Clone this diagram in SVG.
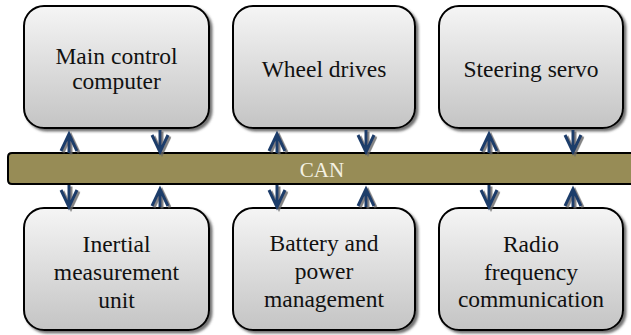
<svg xmlns="http://www.w3.org/2000/svg" width="631" height="335" viewBox="0 0 631 335">
  <defs>
    <linearGradient id="boxFill" x1="0" y1="0" x2="0" y2="1">
      <stop offset="0" stop-color="#f5f5f5"/>
      <stop offset="1" stop-color="#c4c4c4"/>
    </linearGradient>
    <filter id="shadow" x="-10%" y="-10%" width="120%" height="120%">
      <feDropShadow dx="2.5" dy="2.5" stdDeviation="1.2" flood-color="#444" flood-opacity="0.75"/>
    </filter>
    <filter id="arrowShadow" x="-50%" y="-20%" width="200%" height="140%">
      <feDropShadow dx="2" dy="1.5" stdDeviation="0.6" flood-color="#666" flood-opacity="0.8"/>
    </filter>
  </defs>
  <style>
    .box { fill: url(#boxFill); stroke: #000; stroke-width: 2; filter: url(#shadow); }
    .unitText { font-family: "Liberation Serif", "Times New Roman", serif; font-size: 23.5px; fill: #111; text-anchor: middle; }
    .bus { fill: #978c56; stroke: #000; stroke-width: 2; }
    .busText { font-family: "Liberation Serif", "Times New Roman", serif; font-size: 21px; fill: #f4f1e2; text-anchor: middle; }
    .arrow { fill: none; stroke: #1f3d6b; stroke-width: 3; stroke-linejoin: miter; filter: url(#arrowShadow); }
  </style>

  <!-- CAN bus -->
  <g id="can-bus">
    <path class="bus" d="M640,153 H12 Q8,153 8,157 V180 Q8,184 12,184 H640 Z"/>
    <text class="busText" x="322" y="177">CAN</text>
  </g>

  <!-- Upper row of units -->
  <g id="main-control-computer">
    <rect class="box" x="24" y="6" width="185" height="122" rx="20" ry="20"/>
    <text class="unitText" x="116.5" y="64">Main control</text>
    <text class="unitText" x="116.5" y="89">computer</text>
  </g>
  <g id="wheel-drives">
    <rect class="box" x="233" y="6" width="182" height="122" rx="20" ry="20"/>
    <text class="unitText" x="324" y="77">Wheel drives</text>
  </g>
  <g id="steering-servo">
    <rect class="box" x="439" y="6" width="184" height="122" rx="20" ry="20"/>
    <text class="unitText" x="531" y="77">Steering servo</text>
  </g>

  <!-- Lower row of units -->
  <g id="inertial-measurement-unit">
    <rect class="box" x="24" y="208" width="185" height="122" rx="20" ry="20"/>
    <text class="unitText" x="116.5" y="252">Inertial</text>
    <text class="unitText" x="116.5" y="280">measurement</text>
    <text class="unitText" x="116.5" y="308">unit</text>
  </g>
  <g id="battery-power-management">
    <rect class="box" x="233" y="208" width="182" height="122" rx="20" ry="20"/>
    <text class="unitText" x="324" y="251">Battery and</text>
    <text class="unitText" x="324" y="279">power</text>
    <text class="unitText" x="324" y="307">management</text>
  </g>
  <g id="radio-frequency-communication">
    <rect class="box" x="439" y="208" width="184" height="122" rx="20" ry="20"/>
    <text class="unitText" x="531" y="252">Radio</text>
    <text class="unitText" x="531" y="280">frequency</text>
    <text class="unitText" x="531" y="307">communication</text>
  </g>

  <!-- Connectors between units and the bus -->
  <g id="connectors">
    <!-- upper row: up into unit, down onto bus -->
    <path class="arrow" d="M69,153 V134 M61,151 L69,134 L77,151"/>
    <path class="arrow" d="M160,130 V152 M152,135 L160,152 L168,135"/>
    <path class="arrow" d="M277,153 V134 M269,151 L277,134 L285,151"/>
    <path class="arrow" d="M366,130 V152 M358,135 L366,152 L374,135"/>
    <path class="arrow" d="M489,153 V134 M481,151 L489,134 L497,151"/>
    <path class="arrow" d="M573,130 V152 M565,135 L573,152 L581,135"/>
    <!-- lower row: down into unit, up onto bus -->
    <path class="arrow" d="M69,185 V207 M61,190 L69,207 L77,190"/>
    <path class="arrow" d="M160,207 V189 M152,206 L160,189 L168,206"/>
    <path class="arrow" d="M277,185 V207 M269,190 L277,207 L285,190"/>
    <path class="arrow" d="M366,207 V189 M358,206 L366,189 L374,206"/>
    <path class="arrow" d="M489,185 V207 M481,190 L489,207 L497,190"/>
    <path class="arrow" d="M573,207 V189 M565,206 L573,189 L581,206"/>
  </g>
</svg>
